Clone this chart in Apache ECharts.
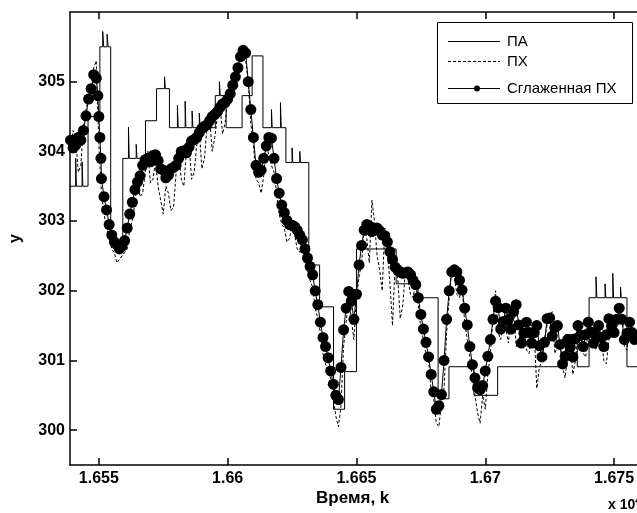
<!DOCTYPE html>
<html><head><meta charset="utf-8">
<script src="https://cdn.jsdelivr.net/npm/echarts@6/dist/echarts.min.js"></script>
<style>html,body{margin:0;padding:0;background:#fff}#c{width:637px;height:513px}</style>
</head><body><div id="c"></div>
<script>
// Tick values
const xTicks = [16550, 16600, 16650, 16700, 16750];
const yTicks = [300, 301, 302, 303, 304, 305];

// ПА (step signal): change points and levels (incl. short spikes)
const paX = [16538.8,16541,16541.3,16543.5,16543.8,16545.8,16550.4,16551.5,16551.9,16553.2,16553.6,16554.6,16559.3,16561.5,16561.8,16564.5,16564.8,
  16568.1,16572.4,16575.5,16575.8,16577.4,16580.5,16580.8,16583.5,16583.8,16586.2,16586.5,16589,16589.3,16592,16592.3,
  16595.2,16596.8,16597.1,16599.4,16605.6,16609.5,16613.7,16617,16617.3,16620.5,16620.8,16622.6,16625,16625.3,16628,16628.3,
  16631.5,16635.7,16641.1,16645.4,16650.0,16665.4,16673.9,16681.7,16685.9,16695.6,16704.8,16731.1,16735.7,16740.3,
  16743,16743.3,16746.5,16746.8,16749.5,16749.8,16752.5,16752.8,16755.0,16760];
const paY = [303.5,303.9,303.5,303.85,303.5,304.5,305.5,305.72,305.5,305.68,305.5,302.7,303.9,304.35,303.9,304.1,303.9,
  304.44,304.9,305.07,304.9,304.34,304.66,304.34,304.72,304.34,304.58,304.34,304.55,304.34,304.5,304.34,
  304.8,305.0,304.8,304.34,304.8,305.37,304.34,304.6,304.34,304.7,304.34,303.84,304.05,303.84,304.0,303.84,
  302.37,301.77,300.3,300.84,302.6,302.1,301.9,300.45,300.91,300.5,300.91,301.37,300.91,301.9,
  302.2,301.9,302.1,301.9,302.25,301.9,302.05,301.9,300.91,300.91];

// ПХ (raw, dashed): even-k samples and odd-k samples
const phX = [16540,16542,16544,16546,16548,16550,16552,16554,16556,16558,16560,16562,16564,16566,16568,16570,16572,16574,16576,16578,
  16580,16582,16584,16586,16588,16590,16592,16594,16596,16598,16600,16602,16604,16606,16608,16610,16612,16614,16616,16618,
  16620,16622,16624,16626,16628,16630,16632,16634,16636,16638,16640,16642,16644,16646,16648,16650,16652,16654,16656,16658,
  16660,16662,16664,16666,16668,16670,16672,16674,16676,16678,16680,16682,16684,16686,16688,16690,16692,16694,16696,16698,
  16700,16702,16704,16706,16708,16710,16712,16714,16716,16718,16720,16722,16724,16726,16728,16730,16732,16734,16736,16738,
  16740,16742,16744,16746,16748,16750,16752,16754,16756,16758];
const phY = [304.3,303.7,304.35,304.75,305.2,304.1,303.1,302.8,302.55,302.45,302.55,302.9,303.25,303.35,303.7,303.55,303.85,303.3,303.5,303.15,
  303.7,303.6,304.0,303.6,304.1,303.75,304.35,304.0,304.5,304.25,304.75,304.95,305.25,305.5,305.0,304.1,303.55,303.65,303.95,303.7,
  303.1,302.9,302.75,302.8,302.55,302.4,302.15,301.75,301.4,300.95,300.75,300.2,300.35,301.55,301.6,301.9,302.4,302.75,303.3,302.5,
  302.0,302.6,301.5,302.2,301.8,302.15,301.9,301.8,301.3,301.0,300.45,300.05,300.6,301.9,302.2,301.9,301.55,301.05,300.5,300.1,
  300.3,301.1,302.0,301.3,301.45,301.7,301.2,301.4,301.15,301.35,300.6,301.0,301.5,301.7,301.2,300.9,301.1,300.8,301.35,301.1,
  301.5,301.2,301.4,301.0,301.3,301.55,301.7,301.2,301.5,301.3];
const phX2 = [16539,16541,16543,16545,16547,16549,16551,16553,16555,16557,16559,16561,16563,16565,16567,16569,16571,16573,16575,16577,
  16579,16581,16583,16585,16587,16589,16591,16593,16595,16597,16599,16601,16603,16605,16607,16609,16611,16613,16615,16617,
  16619,16621,16623,16625,16627,16629,16631,16633,16635,16637,16639,16641,16643,16645,16647,16649,16651,16653,16655,16657,
  16659,16661,16663,16665,16667,16669,16671,16673,16675,16677,16679,16681,16683,16685,16687,16689,16691,16693,16695,16697,
  16699,16701,16703,16705,16707,16709,16711,16713,16715,16717,16719,16721,16723,16725,16727,16729,16731,16733,16735,16737,
  16739,16741,16743,16745,16747,16749,16751,16753,16755,16757,16759];
const phY2 = [304.0,304.2,303.8,304.6,304.7,305.3,303.4,302.9,302.6,302.4,302.5,302.6,303.0,303.6,303.4,304.0,303.6,303.5,303.1,303.4,
  303.2,303.95,303.5,304.1,303.7,304.3,303.9,304.5,304.2,304.7,304.4,304.9,304.9,305.4,305.3,304.4,303.6,303.4,304.1,303.8,
  303.4,302.95,302.7,302.95,302.6,302.7,302.3,302.05,301.6,301.1,300.8,300.45,300.05,301.2,301.9,301.3,302.2,302.9,302.4,303.0,
  302.3,302.9,302.1,302.4,301.6,302.3,301.95,302.15,301.45,301.1,300.55,300.1,300.4,301.4,302.3,301.95,302.1,301.3,300.75,300.25,
  300.5,300.8,301.6,301.4,301.6,301.25,301.75,301.3,301.45,301.1,301.4,300.9,301.3,301.65,301.1,301.3,300.75,301.25,301.0,301.45,
  301.05,301.5,301.15,301.4,300.95,301.55,301.35,301.75,301.15,301.45,301.3];

// Сглаженная ПХ (smoothed, with markers): two interleaved sample sets
const smX = [16539,16541,16543,16545,16547,16549,16549.6,16550.0,16550.4,16550.8,16551,16553,16555,16557,16559,16561,16563,16565,16567,16569,
  16571,16573,16575,16577,16579,16581,16583,16585,16587,16589,16591,16593,16595,16597,16599,16601,16603,16605,16607,16608,
  16609,16610,16611,16613,16615,16617,16619,16621,16623,16625,16627,16629,16631,16633,16635,16637,16639,16641,16643,16645,
  16647,16649,16651,16653,16655,16657,16659,16661,16663,16665,16667,16669,16671,16673,16675,16677,16679,16681,16683,16685,
  16687,16689,16691,16693,16695,16697,16699,16701,16703,16705,16707,16709,16711,16713,16715,16717,16719,16721,16723,16725,
  16727,16729,16731,16733,16735,16737,16739,16741,16743,16745,16747,16749,16751,16753,16755,16757,16759];
const smY = [304.16,304.09,304.16,304.51,304.90,305.05,304.8,304.5,304.2,303.9,303.61,303.16,302.80,302.66,302.64,302.90,303.27,303.56,303.80,303.90,
  303.94,303.87,303.73,303.66,303.77,303.90,304.01,304.06,304.17,304.27,304.36,304.44,304.53,304.63,304.70,304.83,305.07,305.36,305.41,305.0,
  304.6,304.2,303.80,303.73,304.08,304.19,303.61,303.23,303.01,302.94,302.87,302.73,302.47,302.23,301.80,301.33,301.04,300.66,300.44,301.44,
  301.99,301.59,302.37,302.87,302.93,302.87,302.86,302.79,302.56,302.34,302.27,302.26,302.23,302.09,301.66,301.26,300.80,300.30,300.51,301.59,
  302.27,302.27,302.01,301.51,300.94,300.61,300.64,301.06,301.59,301.76,301.56,301.59,301.70,301.51,301.39,301.40,301.40,301.21,301.26,301.61,
  301.47,301.23,301.06,301.19,301.31,301.36,301.37,301.41,301.36,301.33,301.37,301.49,301.59,301.59,301.39,301.40,301.44];
const smX2 = [16540,16542,16544,16546,16548,16552,16554,16556,16558,16560,16562,16564,16566,16568,16570,16572,16574,16576,16578,16580,
  16582,16584,16586,16588,16590,16592,16594,16596,16598,16600,16602,16604,16606,16612,16614,16616,16618,16620,16622,16624,
  16626,16628,16630,16632,16634,16636,16638,16640,16642,16644,16646,16648,16650,16652,16654,16656,16658,16660,16662,16664,
  16666,16668,16670,16672,16674,16676,16678,16680,16682,16684,16686,16688,16690,16692,16694,16696,16698,16700,16702,16704,
  16706,16708,16710,16712,16714,16716,16718,16720,16722,16724,16726,16728,16730,16732,16734,16736,16738,16740,16742,16744,
  16746,16748,16750,16752,16754,16756,16758];
const smY2 = [304.05,304.2,304.3,304.75,305.1,303.35,302.95,302.7,302.6,302.72,303.1,303.45,303.65,303.88,303.85,303.95,303.75,303.62,303.75,303.8,
  304.0,303.98,304.15,304.2,304.33,304.38,304.5,304.57,304.68,304.75,304.95,305.2,305.45,303.7,303.9,304.2,303.9,303.4,303.12,302.95,
  302.92,302.8,302.6,302.35,302.0,301.55,301.2,300.85,300.5,300.9,301.75,301.85,301.95,302.65,302.95,302.85,302.9,302.8,302.7,302.45,
  302.3,302.25,302.27,302.15,301.9,301.45,301.05,300.55,300.35,301.0,302.0,302.3,302.15,301.75,301.2,300.75,300.58,300.85,301.3,301.85,
  301.45,301.75,301.45,301.8,301.25,301.55,301.25,301.5,301.05,301.6,301.35,301.5,300.95,301.3,301.05,301.5,301.2,301.55,301.25,301.5,
  301.2,301.6,301.4,301.75,301.3,301.55,301.3];

const merge = (xa, ya, xb, yb) => xa.map((v, i) => [v, ya[i]]).concat(xb.map((v, i) => [v, yb[i]])).sort((p, q) => p[0] - q[0]);
const zip = (a, b) => a.map((v, i) => [v, b[i]]);
const FONT = "'Liberation Sans', Arial, sans-serif";

const chart = echarts.init(document.getElementById('c'), null, {renderer: 'canvas'});
const axisCommon = {
  type: 'value', min: 16538.8, max: 16758.9,
  axisLine: {show: true, onZero: false, lineStyle: {color: '#000', width: 1.5}},
  splitLine: {show: false}
};
chart.setOption({
  animation: false,
  backgroundColor: '#fff',
  grid: {left: 67, right: 0, top: 12, bottom: 48, containLabel: false},
  xAxis: [
    Object.assign({}, axisCommon, {
      position: 'bottom',
      axisTick: {show: true, inside: true, length: 7, customValues: xTicks, lineStyle: {color: '#000', width: 1.5}},
      axisLabel: {show: true, customValues: xTicks, margin: 6, color: '#000', fontFamily: FONT, fontWeight: 'bold', fontSize: 16,
        formatter: v => String(+(v / 10000).toFixed(4))}
    }),
    Object.assign({}, axisCommon, {
      position: 'top',
      axisTick: {show: true, inside: true, length: 7, customValues: xTicks, lineStyle: {color: '#000', width: 1.5}},
      axisLabel: {show: false}
    })
  ],
  yAxis: {
    type: 'value', min: 299.5, max: 306,
    axisLine: {show: true, lineStyle: {color: '#000', width: 1.5}},
    axisTick: {show: true, inside: true, length: 7, customValues: yTicks, lineStyle: {color: '#000', width: 1.5}},
    axisLabel: {show: true, customValues: yTicks, margin: 5, color: '#000', fontFamily: FONT, fontWeight: 'bold', fontSize: 16},
    splitLine: {show: false},
    name: 'y', nameLocation: 'middle', nameGap: 46, nameRotate: 90,
    nameTextStyle: {color: '#000', fontFamily: FONT, fontWeight: 'bold', fontSize: 16}
  },
  series: [
    {name: 'ПА', type: 'line', step: 'end', data: zip(paX, paY), symbol: 'none', silent: true,
      lineStyle: {color: '#000', width: 1}},
    {name: 'ПХ', type: 'line', data: merge(phX, phY, phX2, phY2), symbol: 'none', silent: true,
      lineStyle: {color: '#000', width: 1, type: [3, 2]}},
    {name: 'Сглаженная ПХ', type: 'line', data: merge(smX, smY, smX2, smY2), symbol: 'circle', symbolSize: 11, showAllSymbol: true, silent: true,
      itemStyle: {color: '#000', borderWidth: 0}, lineStyle: {color: '#000', width: 1}}
  ],
  graphic: [
    {type: 'text', left: 316, top: 490, style: {text: 'Время, k', fill: '#000', font: "bold 17px " + FONT}},
    {type: 'text', left: 608, top: 496, style: {text: 'x 10{s|4}', fill: '#000', font: "bold 14px " + FONT,
      rich: {s: {font: "bold 10px " + FONT, verticalAlign: 'top', padding: [0,0,8,0]}}}},
    {type: 'group', z: 100, children: [
      {type: 'rect', shape: {x: 437.5, y: 22.5, width: 195, height: 81}, style: {fill: '#fff', stroke: '#000', lineWidth: 1}},
      {type: 'line', shape: {x1: 448, y1: 41.5, x2: 500, y2: 41.5}, style: {stroke: '#000', lineWidth: 1}},
      {type: 'text', x: 507, y: 41.5, style: {text: 'ПА', fill: '#000', font: '15px ' + FONT, verticalAlign: 'middle'}},
      {type: 'line', shape: {x1: 448, y1: 61.5, x2: 500, y2: 61.5}, style: {stroke: '#000', lineWidth: 1, lineDash: [3, 2]}},
      {type: 'text', x: 507, y: 61.5, style: {text: 'ПХ', fill: '#000', font: '15px ' + FONT, verticalAlign: 'middle'}},
      {type: 'line', shape: {x1: 448, y1: 88.5, x2: 500, y2: 88.5}, style: {stroke: '#000', lineWidth: 1}},
      {type: 'circle', shape: {cx: 477, cy: 88.5, r: 3}, style: {fill: '#000'}},
      {type: 'text', x: 507, y: 88.5, style: {text: 'Сглаженная ПХ', fill: '#000', font: '15px ' + FONT, verticalAlign: 'middle'}}
    ]}
  ]
});
</script></body></html>
